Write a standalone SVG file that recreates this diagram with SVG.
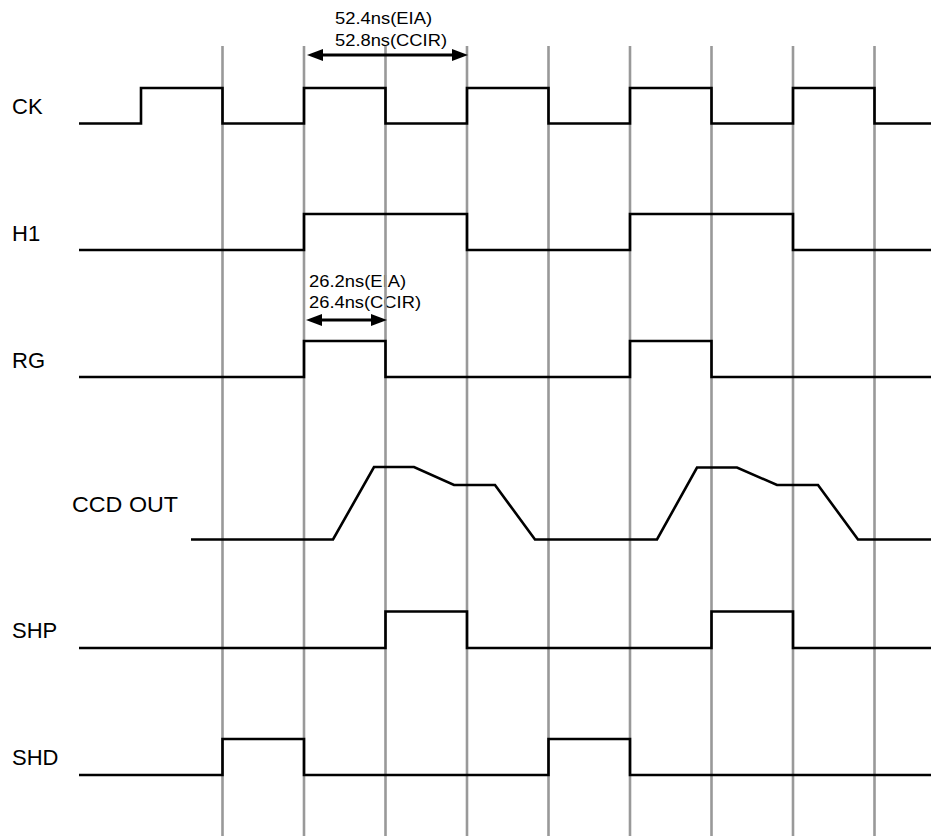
<svg xmlns="http://www.w3.org/2000/svg" width="931" height="836" viewBox="0 0 931 836">
<style>
.lbl{font-family:"Liberation Sans",Arial,sans-serif;font-size:22px;fill:#000}
.ann{font-family:"Liberation Sans",Arial,sans-serif;font-size:17px;fill:#000}
.wave{fill:none;stroke:#000;stroke-width:2.6;stroke-linejoin:miter}
.grid{stroke:#999;stroke-width:2.6}
.dim{stroke:#000;stroke-width:3}
</style>
<defs>
<marker id="ah" markerUnits="userSpaceOnUse" markerWidth="16" markerHeight="12" viewBox="0 0 16 12" refX="3" refY="6" orient="auto-start-reverse">
<path d="M0,0 L16,6 L0,12 z" fill="#000"/>
</marker>
</defs>
<rect width="931" height="836" fill="#fff"/>
<g id="labels">
<text class="lbl" x="12" y="114">CK</text>
<text class="lbl" x="12" y="241">H1</text>
<text class="lbl" x="12" y="368">RG</text>
<text class="lbl" x="72" y="511.5" textLength="106" lengthAdjust="spacingAndGlyphs">CCD OUT</text>
<text class="lbl" x="12" y="637.5">SHP</text>
<text class="lbl" x="12" y="765">SHD</text>
</g>
<g id="annotations">
<text class="ann" x="335" y="23.5" textLength="97" lengthAdjust="spacingAndGlyphs">52.4ns(EIA)</text>
<text class="ann" x="335" y="45.5" textLength="112" lengthAdjust="spacingAndGlyphs">52.8ns(CCIR)</text>
<text class="ann" x="309" y="286.5" textLength="97" lengthAdjust="spacingAndGlyphs">26.2ns(EIA)</text>
<text class="ann" x="309" y="307.5" textLength="112" lengthAdjust="spacingAndGlyphs">26.4ns(CCIR)</text>
</g>
<g id="grid">
<line class="grid" x1="222.5" y1="46" x2="222.5" y2="836"/>
<line class="grid" x1="304" y1="46" x2="304" y2="836"/>
<line class="grid" x1="385.5" y1="46" x2="385.5" y2="836"/>
<line class="grid" x1="467" y1="46" x2="467" y2="836"/>
<line class="grid" x1="548.5" y1="46" x2="548.5" y2="836"/>
<line class="grid" x1="630" y1="46" x2="630" y2="836"/>
<line class="grid" x1="711.5" y1="46" x2="711.5" y2="836"/>
<line class="grid" x1="793" y1="46" x2="793" y2="836"/>
<line class="grid" x1="874.5" y1="46" x2="874.5" y2="836"/>
</g>
<g id="connectors">
<line class="dim" x1="320" y1="55" x2="455" y2="55" marker-start="url(#ah)" marker-end="url(#ah)"/>
<line class="dim" x1="319" y1="320" x2="374" y2="320" marker-start="url(#ah)" marker-end="url(#ah)"/>
</g>
<g id="CK">
<polyline class="wave" points="79,123.5 141,123.5 141,88 222.5,88 222.5,123.5 304,123.5 304,88 385.5,88 385.5,123.5 467,123.5 467,88 548.5,88 548.5,123.5 630,123.5 630,88 711.5,88 711.5,123.5 793,123.5 793,88 874.5,88 874.5,123.5 931,123.5"/>
</g>
<g id="H1">
<polyline class="wave" points="79,250 304,250 304,214 467,214 467,250 630,250 630,214 793,214 793,250 931,250"/>
</g>
<g id="RG">
<polyline class="wave" points="79,377 304,377 304,341 385.5,341 385.5,377 630,377 630,341 711.5,341 711.5,377 931,377"/>
</g>
<g id="CCDOUT">
<polyline class="wave" points="191,539.5 333,539.5 374,467 414,467 454,485 495,485 535,539.5 657,539.5 697,467.5 737,467.5 777,485 818,485 858,539.5 931,539.5"/>
</g>
<g id="SHP">
<polyline class="wave" points="79,648 385.5,648 385.5,611.5 467,611.5 467,648 711.5,648 711.5,611.5 793,611.5 793,648 931,648"/>
</g>
<g id="SHD">
<polyline class="wave" points="79,775 222.5,775 222.5,739 304,739 304,775 548.5,775 548.5,739 630,739 630,775 931,775"/>
</g>
</svg>
